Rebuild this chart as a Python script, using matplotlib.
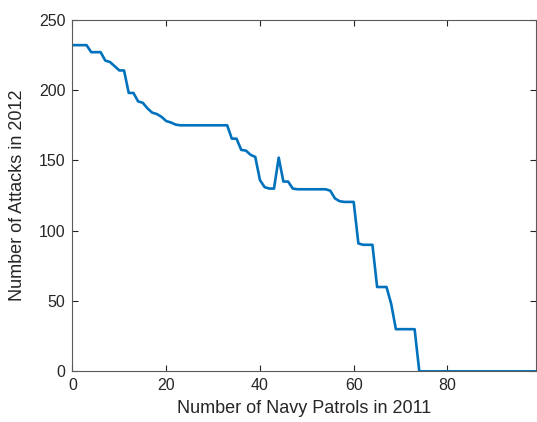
import matplotlib
matplotlib.use("Agg")
import matplotlib.pyplot as plt

# Attacks in 2012 against number of navy patrols in 2011
patrols = list(range(100))
attacks = (
    [232, 232, 232, 232, 227, 227, 227, 221, 220, 217,
     214, 214, 198, 198, 192, 191, 187, 184, 183, 181,
     178, 177, 175.5]
    + [175] * 11
    + [165.5, 165.5, 157.5, 157, 154, 152.5, 136, 131, 130, 130,
       152, 135, 135, 130, 129.5, 129.5, 129.5, 129.5, 129.5, 129.5,
       129.5, 128.5, 123, 121, 120.5, 120.5, 120.5, 91, 90, 90,
       90, 60, 60, 60, 48, 30, 30, 30, 30, 30]
    + [0] * 26
)

x_ticks = [0, 20, 40, 60, 80]
y_ticks = [0, 50, 100, 150, 200, 250]

plt.rcParams["font.family"] = ["Liberation Sans", "DejaVu Sans"]

fig = plt.figure(figsize=(5.37, 4.22), dpi=100)
ax = fig.add_axes([0.135, 0.12, 0.864, 0.833])

ax.plot(patrols, attacks, color="#0072BD", linewidth=1.9)

ax.set_xlim(0, 99)
ax.set_ylim(0, 250)
ax.set_xticks(x_ticks)
ax.set_yticks(y_ticks)
ax.set_xlabel("Number of Navy Patrols in 2011", fontsize=13, color="#262626",
              labelpad=5)
ax.set_ylabel("Number of Attacks in 2012", fontsize=13, color="#262626",
              labelpad=9)

ax.tick_params(direction="in", length=4, width=0.8, top=True, right=True,
               labelsize=11.5, colors="#262626", pad=5)
for side in ax.spines.values():
    side.set_color("#5a5a5a")
    side.set_linewidth(0.8)

fig.savefig("out.png", dpi=100)
plt.close(fig)
